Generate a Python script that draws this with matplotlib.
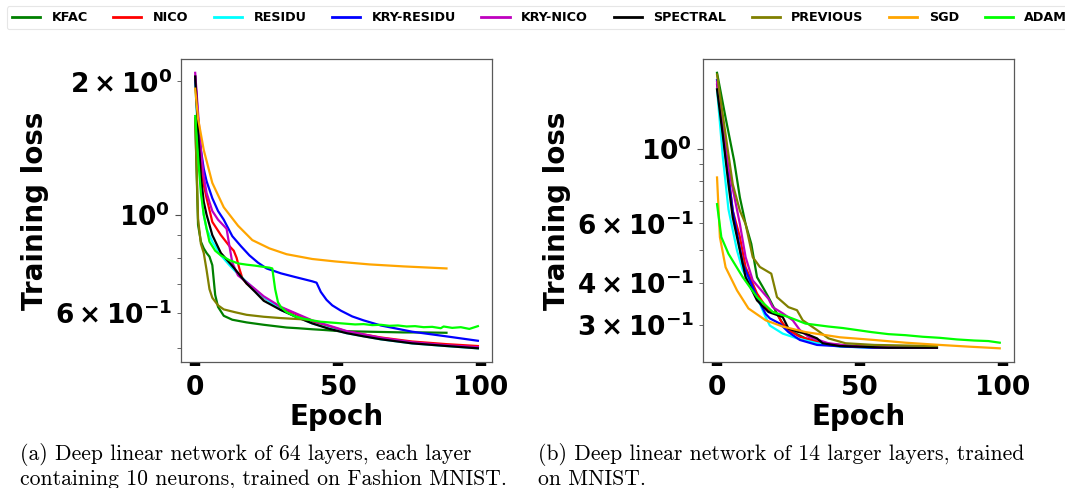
import matplotlib
matplotlib.use("Agg")
import matplotlib.pyplot as plt

plt.rcParams['font.family'] = ['DejaVu Sans']
plt.rcParams['font.weight'] = 'bold'
plt.rcParams['axes.labelweight'] = 'bold'

names = ["KFAC", "NICO", "RESIDU", "KRY-RESIDU", "KRY-NICO", "SPECTRAL", "PREVIOUS", "SGD", "ADAM"]
colors = ["green", "red", "cyan", "blue", "m", "black", "olive", "orange", "lime"]

# ---- (a) Fashion MNIST, 64 layers of 10 neurons ----
a_kfac_x = [0, 1, 2, 3, 4, 5, 6, 7, 8, 10, 13, 18, 24, 28, 32, 36, 41, 45, 50, 55, 61, 67, 73, 80, 88]
a_kfac_y = [1.65, 0.95, 0.87, 0.84, 0.82, 0.805, 0.77, 0.66, 0.62, 0.592, 0.58, 0.572, 0.565, 0.561, 0.557,
            0.555, 0.552, 0.550, 0.547, 0.546, 0.545, 0.544, 0.543, 0.543, 0.542]
a_nico_x = [0, 1, 2, 3, 4, 6, 9, 12, 13.5, 14.5, 15.5, 16.5, 18, 21, 24, 30, 41, 53, 65, 76, 88, 99]
a_nico_y = [2.05, 1.6, 1.3, 1.17, 1.09, 0.964, 0.90, 0.85, 0.83, 0.80, 0.755, 0.72, 0.70, 0.675, 0.65,
            0.618, 0.575, 0.546, 0.529, 0.518, 0.511, 0.506]
a_residu_x = [0, 1, 2, 3, 4, 6, 9, 12, 15, 18, 21, 24, 30, 41, 53, 65, 76, 88, 99]
a_residu_y = [2.0, 1.5, 1.15, 1.0, 0.93, 0.87, 0.81, 0.77, 0.735, 0.706, 0.678, 0.652, 0.61, 0.569,
              0.541, 0.524, 0.513, 0.506, 0.500]
a_kryres_x = [0, 1, 2, 3, 4, 6, 8, 10, 13, 16, 19, 22, 25, 30, 35, 41, 42.5, 44, 46, 48, 51, 55, 59, 65, 76, 88, 99]
a_kryres_y = [2.05, 1.65, 1.4, 1.27, 1.19, 1.09, 1.02, 0.975, 0.895, 0.85, 0.81, 0.78, 0.757, 0.738, 0.724,
              0.708, 0.703, 0.67, 0.643, 0.625, 0.608, 0.59, 0.578, 0.563, 0.545, 0.532, 0.520]
a_krynico_x = [0, 1, 2, 3, 4, 6, 8, 10, 11, 12, 13, 15, 18, 21, 24, 30, 41, 53, 65, 76, 88, 99]
a_krynico_y = [2.09, 1.7, 1.4, 1.22, 1.12, 1.02, 0.975, 0.945, 0.93, 0.85, 0.78, 0.73, 0.705, 0.68, 0.655,
               0.62, 0.578, 0.547, 0.528, 0.516, 0.508, 0.503]
a_spectral_x = [0, 1, 2, 3, 4, 6, 9, 12, 15, 18, 21, 24, 30, 35, 41, 47, 53, 59, 65, 76, 88, 99]
a_spectral_y = [2.05, 1.55, 1.22, 1.07, 1.0, 0.90, 0.82, 0.78, 0.74, 0.70, 0.67, 0.64, 0.61, 0.59, 0.569,
                0.553, 0.541, 0.532, 0.524, 0.513, 0.506, 0.500]
a_previous_x = [0, 1, 2, 3, 4, 5, 6, 8, 10, 14, 18, 24, 30, 36, 40]
a_previous_y = [1.65, 0.98, 0.86, 0.82, 0.75, 0.68, 0.65, 0.625, 0.612, 0.603, 0.595, 0.589, 0.585, 0.582, 0.580]
a_sgd_x = [0, 1, 3, 6, 10, 15, 20, 26, 32, 41, 49, 61, 73, 88]
a_sgd_y = [1.925, 1.65, 1.40, 1.18, 1.04, 0.945, 0.877, 0.84, 0.815, 0.795, 0.785, 0.773, 0.765, 0.757]
a_adam_x = [0, 1, 2, 3, 4, 5, 7, 9, 12, 15, 18, 21, 24, 26, 27, 28, 29, 30, 32, 35, 38, 41, 44, 47, 50,
            53, 56, 59, 62, 65, 68, 71, 74, 77, 80, 83, 86, 87, 90, 93, 96, 99]
a_adam_y = [1.67, 1.35, 1.12, 1.0, 0.93, 0.87, 0.83, 0.81, 0.79, 0.777, 0.772, 0.768, 0.763, 0.76, 0.757,
            0.68, 0.635, 0.62, 0.603, 0.59, 0.583, 0.578, 0.574, 0.572, 0.570, 0.568, 0.566, 0.567, 0.564,
            0.565, 0.562, 0.563, 0.560, 0.561, 0.558, 0.559, 0.555, 0.560, 0.556, 0.558, 0.553, 0.561]

# ---- (b) MNIST, 14 larger layers ----
b_kfac_x = [0, 3, 6, 8, 10, 12, 14, 16, 18, 21, 23, 25, 31, 37, 45, 55, 65, 77]
b_kfac_y = [1.68, 1.235, 0.919, 0.716, 0.597, 0.521, 0.415, 0.388, 0.362, 0.323, 0.302, 0.289, 0.273,
            0.264, 0.260, 0.258, 0.257, 0.257]
b_nico_x = [0, 3, 5.5, 8, 10, 14, 18, 21, 22.5, 25, 29, 37, 45, 55, 65, 77]
b_nico_y = [1.55, 0.984, 0.654, 0.546, 0.444, 0.371, 0.33, 0.324, 0.306, 0.289, 0.276, 0.264, 0.259,
            0.257, 0.256, 0.256]
b_residu_x = [0, 2, 4, 7, 9, 14, 17, 18.5, 23, 28, 35, 43, 55, 65, 77]
b_residu_y = [1.5, 0.95, 0.66, 0.498, 0.435, 0.362, 0.316, 0.298, 0.282, 0.273, 0.264, 0.258, 0.256,
              0.256, 0.256]
b_kryres_x = [0, 3, 5.5, 9, 14, 17, 18.5, 22, 25, 29, 35, 45, 55, 65, 77]
b_kryres_y = [1.60, 0.95, 0.654, 0.455, 0.362, 0.323, 0.313, 0.302, 0.285, 0.27, 0.261, 0.258, 0.256,
              0.256, 0.256]
b_krynico_x = [0, 4, 8, 10, 12.5, 18, 19.5, 23, 26.5, 29, 32, 39, 47, 55, 65, 77]
b_krynico_y = [1.58, 0.879, 0.597, 0.476, 0.406, 0.358, 0.338, 0.324, 0.309, 0.289, 0.276, 0.264, 0.259,
               0.257, 0.256, 0.256]
b_spectral_x = [0, 2, 4, 5.5, 8, 10, 14, 18, 23, 25, 28, 31, 35, 37, 43, 49, 60, 77]
b_spectral_y = [1.50, 1.10, 0.784, 0.625, 0.498, 0.415, 0.354, 0.327, 0.316, 0.292, 0.286, 0.282, 0.273,
                0.264, 0.259, 0.258, 0.256, 0.256]
b_previous_x = [0, 3, 5.5, 8, 10, 12.5, 15, 19, 21, 25, 28, 30, 35, 39, 45, 55, 65, 77]
b_previous_y = [1.66, 1.10, 0.784, 0.654, 0.597, 0.476, 0.445, 0.425, 0.362, 0.338, 0.331, 0.309, 0.289,
                0.273, 0.264, 0.261, 0.260, 0.259]
b_sgd_x = [0, 1, 3, 7, 11, 17, 23, 31, 43, 55, 66, 78, 88, 99]
b_sgd_y = [0.821, 0.546, 0.444, 0.379, 0.335, 0.309, 0.296, 0.285, 0.275, 0.270, 0.265, 0.261, 0.258, 0.255]
b_adam_x = [0, 1.5, 4, 9, 14, 19.5, 25, 31, 35, 39, 44, 49, 54, 60, 66, 72, 78, 84, 90, 95, 99]
b_adam_y = [0.684, 0.546, 0.487, 0.415, 0.362, 0.327, 0.316, 0.302, 0.299, 0.296, 0.293, 0.289, 0.285,
            0.281, 0.279, 0.276, 0.274, 0.271, 0.269, 0.268, 0.265]

panel_a = [(a_kfac_x, a_kfac_y), (a_nico_x, a_nico_y), (a_residu_x, a_residu_y), (a_kryres_x, a_kryres_y),
           (a_krynico_x, a_krynico_y), (a_spectral_x, a_spectral_y), (a_previous_x, a_previous_y),
           (a_sgd_x, a_sgd_y), (a_adam_x, a_adam_y)]
panel_b = [(b_kfac_x, b_kfac_y), (b_nico_x, b_nico_y), (b_residu_x, b_residu_y), (b_kryres_x, b_kryres_y),
           (b_krynico_x, b_krynico_y), (b_spectral_x, b_spectral_y), (b_previous_x, b_previous_y),
           (b_sgd_x, b_sgd_y), (b_adam_x, b_adam_y)]

captions = ["(a) Deep linear network of 64 layers, each layer\ncontaining 10 neurons, trained on Fashion MNIST.",
            "(b) Deep linear network of 14 larger layers, trained\non MNIST."]

fig = plt.figure(figsize=(10.65, 4.88), dpi=100)
ax1 = fig.add_axes([0.170, 0.258, 0.292, 0.621])
ax2 = fig.add_axes([0.660, 0.258, 0.292, 0.621])

for ax, panel in [(ax1, panel_a), (ax2, panel_b)]:
    for (xs, ys), name, c in zip(panel, names, colors):
        ax.plot(xs, ys, color=c, lw=1.6, label=name)
    ax.set_yscale('log')
    ax.set_xlabel("Epoch", fontsize=20, labelpad=2)
    ax.set_ylabel("Training loss", fontsize=20)
    ax.set_xticks([0, 50, 100])
    ax.tick_params(axis='x', which='major', labelsize=19, width=7.5, length=3, pad=6)
    ax.tick_params(axis='y', which='major', labelsize=19, width=0.8, length=4.5, color='0.3')
    ax.tick_params(axis='y', which='minor', labelsize=19, width=0.6, length=3, color='0.3')
    for s in ax.spines.values():
        s.set_color('0.35')
        s.set_linewidth(0.9)

handles, labels = ax1.get_legend_handles_labels()
leg = fig.legend(handles, labels, ncol=9, loc='upper left', bbox_to_anchor=(0.004, 0.993),
                 prop={'size': 9.2, 'weight': 'bold'}, handlelength=2.2, handletextpad=0.9,
                 columnspacing=2.0, borderaxespad=0.2, frameon=True, fancybox=True)
leg.get_frame().set_edgecolor('0.88')
leg.get_frame().set_linewidth(0.8)
for h in leg.get_lines():
    h.set_linewidth(2.0)

fig.text(0.019, 0.093, captions[0], fontfamily='cmr10', fontweight='normal', fontsize=15.6,
         va='top', ha='left', linespacing=1.22)
fig.text(0.505, 0.093, captions[1], fontfamily='cmr10', fontweight='normal', fontsize=15.6,
         va='top', ha='left', linespacing=1.22)

fig.savefig("out.png", dpi=100)
